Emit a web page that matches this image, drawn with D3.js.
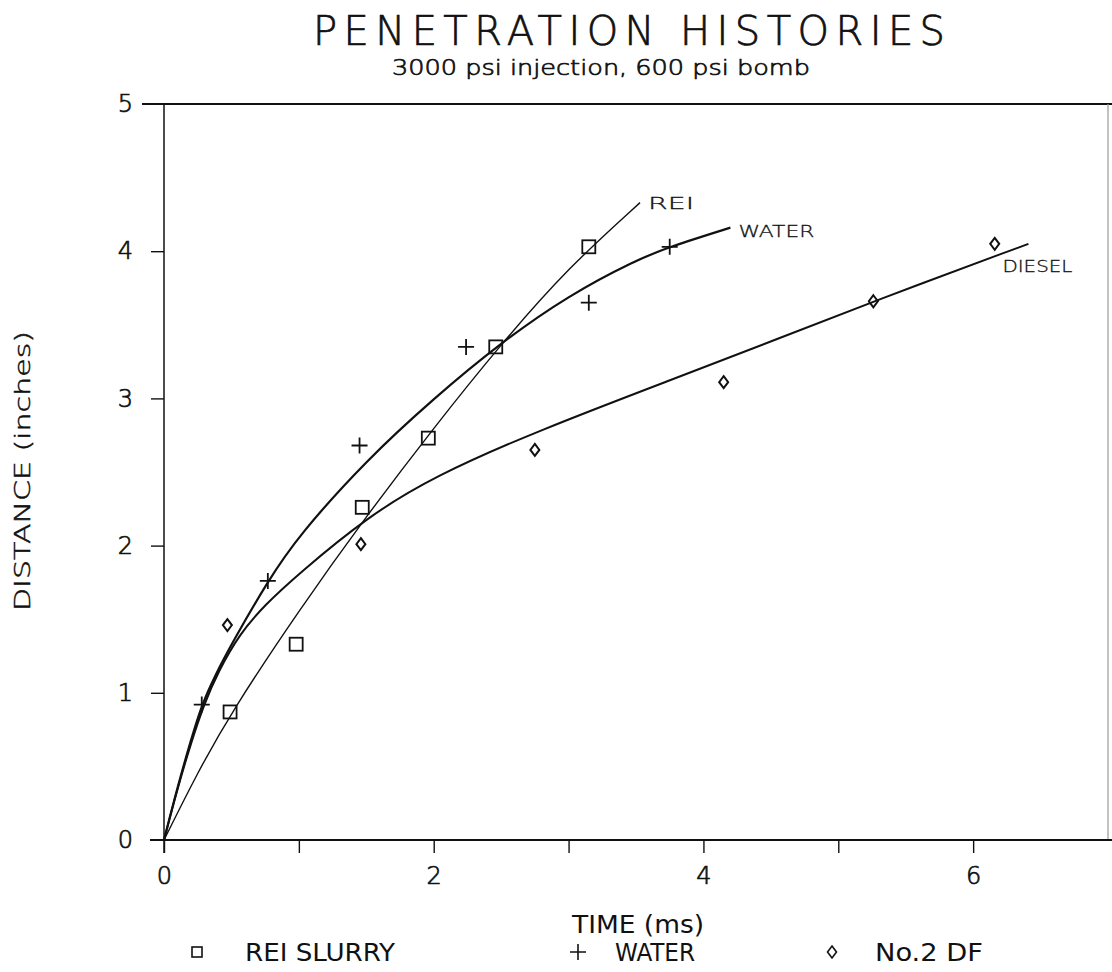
<!DOCTYPE html>
<html>
<head>
<meta charset="utf-8">
<script src="https://cdn.jsdelivr.net/npm/d3@7"></script>
<style>
  body { margin: 0; background: #fff; }
  svg { display: block; }
  .plot { font-family: "DejaVu Sans", sans-serif; font-weight: 200; fill: #111; stroke: #111; stroke-width: 0.7; }
  .narrow { font-family: "Liberation Sans Narrow", "DejaVu Sans Condensed", sans-serif; fill: #111; }
  .hand { font-family: "DejaVu Sans", sans-serif; font-weight: 200; fill: #111; stroke: #111; stroke-width: 0.3; }
</style>
</head>
<body>
<svg id="chart" width="1112" height="972"></svg>
<script>
// measured points (time ms, distance inches)
var reiX   = [0.49, 0.98, 1.47, 1.96, 2.46, 3.15];
var reiY   = [0.87, 1.33, 2.26, 2.73, 3.35, 4.03];
var waterX = [0.28, 0.77, 1.45, 2.24, 3.15, 3.75];
var waterY = [0.92, 1.76, 2.68, 3.35, 3.65, 4.03];
var dieselX = [0.47, 1.46, 2.75, 4.15, 5.26, 6.16];
var dieselY = [1.46, 2.01, 2.65, 3.11, 3.66, 4.05];

// fitted curves
var reiCurveX   = [0, 0.25, 0.5, 1.0, 1.5, 2.0, 2.5, 3.0, 3.53];
var reiCurveY   = [0, 0.46, 0.87, 1.56, 2.20, 2.80, 3.37, 3.89, 4.33];
var waterCurveX = [0, 0.1, 0.2, 0.28, 0.38, 0.5, 0.77, 1.0, 1.5, 2.0, 2.5, 3.0, 3.5, 3.75, 4.2];
var waterCurveY = [0, 0.36, 0.68, 0.92, 1.12, 1.33, 1.76, 2.07, 2.58, 3.00, 3.38, 3.70, 3.94, 4.03, 4.16];
var dieselCurveX = [0, 0.1, 0.2, 0.3, 0.4, 0.56, 0.75, 1.0, 1.5, 2.0, 2.77, 3.8, 4.54, 5.26, 6.41];
var dieselCurveY = [0, 0.35, 0.66, 0.93, 1.14, 1.40, 1.60, 1.81, 2.19, 2.47, 2.78, 3.14, 3.40, 3.66, 4.05];

var xTicks = [0, 1, 2, 3, 4, 5, 6];
var xTickLabels = ["0", "", "2", "", "4", "", "6"];
var yTicks = [0, 1, 2, 3, 4, 5];
var yTickLabels = ["0", "1", "2", "3", "4", "5"];

var legendNames = ["REI SLURRY", "WATER", "No.2 DF"];
var curveNames = ["REI", "WATER", "DIESEL"];

var svg = d3.select("#chart");
var margin = {top: 104, right: 4, bottom: 132, left: 164};
var W = 1112, H = 972;

var x = d3.scaleLinear().domain([0, 7]).range([margin.left, W - margin.right]);
var y = d3.scaleLinear().domain([0, 5]).range([H - margin.bottom, margin.top]);

// ---- title ----
svg.append("text").attr("class", "plot")
    .attr("x", 629).attr("y", 45)
    .attr("text-anchor", "middle")
    .attr("font-size", 40)
    .attr("textLength", 632).attr("lengthAdjust", "spacing")
    .text("PENETRATION HISTORIES");

svg.append("text").attr("class", "plot")
    .attr("x", 601).attr("y", 75)
    .attr("text-anchor", "middle")
    .attr("font-size", 21)
    .attr("textLength", 418).attr("lengthAdjust", "spacingAndGlyphs")
    .text("3000 psi injection, 600 psi bomb");

// ---- frame ----
var frame = svg.append("g").attr("stroke", "#111").attr("fill", "none");
frame.append("line")   // top
    .attr("x1", x(0) - 22).attr("x2", W)
    .attr("y1", y(5)).attr("y2", y(5))
    .attr("stroke-width", 1.8);
frame.append("line")   // right
    .attr("x1", x(7)).attr("x2", x(7))
    .attr("y1", y(5)).attr("y2", y(0))
    .attr("stroke", "#999").attr("stroke-width", 1.2);
frame.append("line")   // x axis line
    .attr("x1", x(0) - 14).attr("x2", W)
    .attr("y1", y(0)).attr("y2", y(0))
    .attr("stroke-width", 2.2);
frame.append("line")   // y axis line
    .attr("x1", x(0)).attr("x2", x(0))
    .attr("y1", y(5)).attr("y2", y(0) + 13)
    .attr("stroke-width", 1.5);

// ---- axes ----
var xAxis = d3.axisBottom(x)
    .tickValues(xTicks)
    .tickSize(13)
    .tickPadding(14)
    .tickFormat(function(d, i) { return xTickLabels[i]; });

var gx = svg.append("g")
    .attr("transform", "translate(0," + y(0) + ")")
    .call(xAxis);
gx.select(".domain").remove();
gx.selectAll("line").attr("stroke", "#111").attr("stroke-width", 1.4);
gx.selectAll("text").attr("class", "plot").attr("font-size", 24).attr("fill", "#111");

var yAxis = d3.axisLeft(y)
    .tickValues(yTicks)
    .tickSize(13)
    .tickPadding(18)
    .tickFormat(function(d, i) { return yTickLabels[i]; });

var gy = svg.append("g")
    .attr("transform", "translate(" + x(0) + ",0)")
    .call(yAxis);
gy.select(".domain").remove();
gy.selectAll("line").attr("stroke", "#111").attr("stroke-width", 1.4)
    .filter(function(d) { return d === 5 || d === 0; }).remove();
gy.selectAll("text").attr("class", "plot").attr("font-size", 24).attr("fill", "#111");

// axis titles
svg.append("text").attr("class", "plot")
    .attr("transform", "translate(30,471) rotate(-90)")
    .attr("text-anchor", "middle")
    .attr("font-size", 21)
    .style("stroke-width", 0.5)
    .attr("textLength", 280).attr("lengthAdjust", "spacingAndGlyphs")
    .text("DISTANCE (inches)");

svg.append("text").attr("class", "narrow")
    .attr("x", 572).attr("y", 933)
    .attr("font-size", 24)
    .attr("textLength", 132).attr("lengthAdjust", "spacingAndGlyphs")
    .text("TIME (ms)");

// ---- curves ----
var line = d3.line()
    .x(function(d) { return x(d[0]); })
    .y(function(d) { return y(d[1]); })
    .curve(d3.curveBasis);

function pairs(xs, ys) { return xs.map(function(v, i) { return [v, ys[i]]; }); }

var curves = [
    {name: curveNames[0], pts: pairs(reiCurveX, reiCurveY), w: 1.4},
    {name: curveNames[1], pts: pairs(waterCurveX, waterCurveY), w: 2.2},
    {name: curveNames[2], pts: pairs(dieselCurveX, dieselCurveY), w: 2.0}
];

svg.append("g").selectAll("path")
    .data(curves).enter().append("path")
    .attr("d", function(d) { return line(d.pts); })
    .attr("fill", "none")
    .attr("stroke", "#111")
    .attr("stroke-width", function(d) { return d.w; });

// handwritten curve labels
var labelPos = [
    {dx: 8, dy: 6, len: 46},
    {dx: 8, dy: 9, len: 76},
    {dx: -26, dy: 28, len: 70}
];
curves.forEach(function(c, i) {
    var end = c.pts[c.pts.length - 1];
    svg.append("text").attr("class", "hand")
        .attr("x", x(end[0]) + labelPos[i].dx)
        .attr("y", y(end[1]) + labelPos[i].dy)
        .attr("font-size", 16)
        .attr("textLength", labelPos[i].len).attr("lengthAdjust", "spacingAndGlyphs")
        .text(c.name);
});

// ---- markers ----
var symSquare = function(g) {
    g.append("rect").attr("x", -6.5).attr("y", -6.5).attr("width", 13).attr("height", 13);
};
var symPlus = function(g) {
    g.append("path").attr("d", "M-8,0H8M0,-8V8");
};
var symDiamond = function(g) {
    g.append("path").attr("d", "M0,-6L4.5,0L0,6L-4.5,0Z");
};

function drawMarkers(xs, ys, sym, w) {
    var g = svg.append("g").attr("fill", "none").attr("stroke", "#111").attr("stroke-width", w);
    xs.forEach(function(v, i) {
        var m = g.append("g").attr("transform", "translate(" + x(v) + "," + y(ys[i]) + ")");
        sym(m);
    });
}
drawMarkers(reiX, reiY, symSquare, 1.8);
drawMarkers(waterX, waterY, symPlus, 1.8);
drawMarkers(dieselX, dieselY, symDiamond, 2);

// ---- legend ----
var legendX = [197, 578, 832];
var legendTextX = [245, 615, 875];
var legendLen = [150, 80, 108];
var legendSym = [symSquare, symPlus, symDiamond];
var legendY = 952;
legendNames.forEach(function(name, i) {
    var m = svg.append("g")
        .attr("transform", "translate(" + legendX[i] + "," + legendY + ")")
        .attr("fill", "none").attr("stroke", "#111").attr("stroke-width", 1.6);
    if (i === 0) {
        m.append("rect").attr("x", -5).attr("y", -5).attr("width", 10).attr("height", 10);
    } else {
        legendSym[i](m);
    }
    svg.append("text").attr("class", "narrow")
        .attr("x", legendTextX[i]).attr("y", legendY + 9)
        .attr("font-size", 24)
        .attr("textLength", legendLen[i]).attr("lengthAdjust", "spacingAndGlyphs")
        .text(name);
});
</script>
</body>
</html>
